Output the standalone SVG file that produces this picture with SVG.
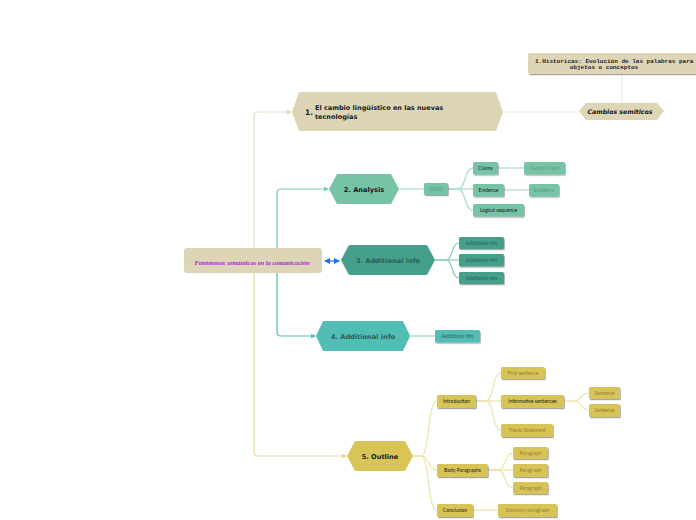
<svg xmlns="http://www.w3.org/2000/svg" width="696" height="520" viewBox="0 0 696 520">
<defs>
<filter id="sh" x="-20%" y="-30%" width="140%" height="170%">
<feDropShadow dx="0.8" dy="1.2" stdDeviation="0.7" flood-color="#000" flood-opacity="0.35"/>
</filter>
<marker id="aTan" viewBox="0 0 6 6" refX="5" refY="3" markerWidth="5" markerHeight="5" orient="auto" markerUnits="userSpaceOnUse"><path d="M0,0 L6,3 L0,6 z" fill="#e3dbbd"/></marker>
<marker id="aMint" viewBox="0 0 6 6" refX="5" refY="3" markerWidth="5" markerHeight="5" orient="auto" markerUnits="userSpaceOnUse"><path d="M0,0 L6,3 L0,6 z" fill="#7ccaa9"/></marker>
<marker id="aTeal" viewBox="0 0 6 6" refX="5" refY="3" markerWidth="5" markerHeight="5" orient="auto" markerUnits="userSpaceOnUse"><path d="M0,0 L6,3 L0,6 z" fill="#52bdb4"/></marker>
<marker id="aYel" viewBox="0 0 6 6" refX="5" refY="3" markerWidth="5" markerHeight="5" orient="auto" markerUnits="userSpaceOnUse"><path d="M0,0 L6,3 L0,6 z" fill="#e6d78c"/></marker>
<marker id="aBlue" viewBox="0 0 6 6" refX="5" refY="3" markerWidth="6" markerHeight="6" orient="auto-start-reverse" markerUnits="userSpaceOnUse"><path d="M0,0 L6,3 L0,6 z" fill="#1a73e8"/></marker>
</defs>
<style>
.main{font-family:"DejaVu Sans",Verdana,sans-serif;font-weight:bold;font-size:6.6px;text-anchor:middle}
.sub{font-family:Lato,"Open Sans",sans-serif;font-size:5px;text-anchor:middle}
.c{fill:none;stroke-linecap:round}
.tan{fill:#ddd5b6}
.mint{fill:#76c3a5}
.dteal{fill:#44a08a}
.teal{fill:#52bdb5}
.yel{fill:#d8c457}
.k{fill:#1a1a1a}
.g2{fill:#5f9a80}
.g3{fill:#2d5e55}
.g5{fill:#8e7f36}
</style>

<g id="connectors">
<path class="c" d="M254,262 V116 Q254,112 258,112 H291" stroke="#e6dfc6" stroke-width="1.2" marker-end="url(#aTan)"/>
<path class="c" d="M254,262 V452 Q254,456 258,456 H346" stroke="#e8dc96" stroke-width="1.2" marker-end="url(#aYel)"/>
<path class="c" d="M277,262 V193 Q277,189 281,189 H328" stroke="#7ccaa9" stroke-width="1.2" marker-end="url(#aMint)"/>
<path class="c" d="M277,262 V332 Q277,336 281,336 H315" stroke="#52bdb4" stroke-width="1.2" marker-end="url(#aTeal)"/>
<line x1="325" y1="261" x2="339" y2="261" stroke="#1a73e8" stroke-width="1.2" marker-start="url(#aBlue)" marker-end="url(#aBlue)"/>
<path class="c" d="M503,112 H579" stroke="#ece7d6" stroke-width="1"/>
<path class="c" d="M622,74 V103" stroke="#ece7d6" stroke-width="1"/>
<g stroke="#b6e0cf" stroke-width="1.4" fill="none">
<path d="M399,189 H424"/>
<path d="M448,189 H458 C466,189 464,168 473,168"/>
<path d="M448,189 H473"/>
<path d="M448,189 H458 C466,189 464,210 473,210"/>
<path d="M498,168 H524"/>
<path d="M504,190 H529"/>
</g>
<g stroke="#8fd0bb" stroke-width="1.2" fill="none">
<path d="M435,260 H446 C453,260 451,243 459,243"/>
<path d="M435,260 H459"/>
<path d="M435,260 H446 C453,260 451,278 459,278"/>
</g>
<path d="M410,336 H435" stroke="#8fd6cf" stroke-width="1.2" fill="none"/>
<g stroke="#ede1a6" stroke-width="1.1" fill="none">
<path d="M413,456 H421 C430,456 427,401 437,401"/>
<path d="M413,456 H421 C430,456 428,470 437,470"/>
<path d="M413,456 H421 C430,456 427,510 437,510"/>
<path d="M476,401 H486 C494,401 492,373 501,373"/>
<path d="M476,401 H501"/>
<path d="M476,401 H486 C494,401 492,430 501,430"/>
<path d="M564,401 H574 C582,401 580,393 589,393"/>
<path d="M564,401 H574 C582,401 580,410 589,410"/>
<path d="M488,470 H498 C506,470 504,453 513,453"/>
<path d="M488,470 H513"/>
<path d="M488,470 H498 C506,470 504,488 513,488"/>
<path d="M473,510 H498"/>
</g>
</g>

<g id="central">
<rect class="tan" x="184" y="248" width="138" height="25" rx="3"/>
<text x="252" y="265" font-family="'Liberation Serif',serif" font-style="italic" font-weight="bold" font-size="6.4" fill="#a326e0" text-anchor="middle">Fenómenos semánticos en la comunicación</text>
</g>

<g id="node1">
<polygon class="tan" points="292,112 299,92 496,92 503,112 496,131 299,131"/>
<text x="305" y="115" font-family="'DejaVu Sans',sans-serif" font-weight="bold" font-size="7.5" class="k">1.</text>
<text x="315" y="110" font-family="'DejaVu Sans',sans-serif" font-weight="bold" font-size="6.5" class="k">El cambio lingüístico en las nuevas</text>
<text x="315" y="119" font-family="'DejaVu Sans',sans-serif" font-weight="bold" font-size="6.5" class="k">tecnologías</text>
</g>

<g id="historicas">
<rect x="528" y="53" width="175" height="21" rx="2" fill="#ddd5b6" filter="url(#sh)"/>
<text x="535" y="62.5" font-family="'Liberation Mono',monospace" font-size="6" font-weight="bold" fill="#222">1.Historicas: Evolución de las palabras para o</text>
<text x="604" y="69" font-family="'Liberation Mono',monospace" font-size="6" font-weight="bold" fill="#222" text-anchor="middle">objetos o conceptos</text>
</g>

<g id="cambios">
<polygon class="tan" points="579,111 586,103 657,103 664,111 657,120 586,120"/>
<text x="620" y="113.5" font-family="'DejaVu Sans',sans-serif" font-style="italic" font-weight="bold" font-size="6.2" fill="#111" text-anchor="middle">Cambios semíticos</text>
</g>

<g id="node2">
<polygon class="mint" points="329,189 337,174 391,174 399,189 391,204 337,204"/>
<text class="main k" x="364" y="192" font-size="7">2. Analysis</text>
</g>
<g id="essay"><rect class="mint" x="424" y="183" width="24" height="12" rx="1.5" filter="url(#sh)"/><text class="sub g2" x="436" y="190.8" font-style="italic">ESSAY</text></g>
<g id="claims"><rect class="mint" x="473" y="162" width="25" height="12.5" rx="1.5" filter="url(#sh)"/><text class="sub k" x="485.5" y="170">Claims</text></g>
<g id="authorclaim"><rect class="mint" x="524" y="162" width="41" height="12.5" rx="1.5" filter="url(#sh)"/><text class="sub g2" x="544.5" y="170">Author Claim</text></g>
<g id="evidence"><rect class="mint" x="473" y="184" width="31" height="12.5" rx="1.5" filter="url(#sh)"/><text class="sub k" x="488.5" y="192">Evidence</text></g>
<g id="evidence2"><rect class="mint" x="529" y="184" width="30" height="12.5" rx="1.5" filter="url(#sh)"/><text class="sub g2" x="544" y="192">Evidence</text></g>
<g id="logical"><rect class="mint" x="473" y="204" width="51" height="12.5" rx="1.5" filter="url(#sh)"/><text class="sub k" x="498.5" y="212">Logical sequence</text></g>

<g id="node3">
<polygon class="dteal" points="341,260 349,245 427,245 435,260 427,275 349,275"/>
<text class="main g3" x="388" y="263">3. Additional info</text>
</g>
<g id="add3a"><rect class="dteal" x="459" y="237" width="45" height="12" rx="1.5" filter="url(#sh)"/><text class="sub g3" x="481.5" y="244.8">Additional info</text></g>
<g id="add3b"><rect class="dteal" x="459" y="254" width="45" height="12.5" rx="1.5" filter="url(#sh)"/><text class="sub g3" x="481.5" y="262">Additional info</text></g>
<g id="add3c"><rect class="dteal" x="459" y="272" width="45" height="12" rx="1.5" filter="url(#sh)"/><text class="sub g3" x="481.5" y="279.8">Additional info</text></g>

<g id="node4">
<polygon class="teal" points="316,336 323,321 403,321 410,336 403,351 323,351"/>
<text class="main g3" x="363" y="339">4. Additional info</text>
</g>
<g id="add4"><rect class="teal" x="435" y="330" width="45" height="12.5" rx="1.5" filter="url(#sh)"/><text class="sub g3" x="457.5" y="338">Additional info</text></g>

<g id="node5">
<polygon class="yel" points="347,456 355,441 405,441 413,456 405,471 355,471"/>
<text class="main k" x="380" y="459">5. Outline</text>
</g>
<g id="intro"><rect class="yel" x="437" y="395" width="39" height="13" rx="1.5" filter="url(#sh)"/><text class="sub k" x="456.5" y="403.2">Introduction</text></g>
<g id="first"><rect class="yel" x="501" y="367" width="44" height="12" rx="1.5" filter="url(#sh)"/><text class="sub g5" x="523" y="374.8">First sentence</text></g>
<g id="informative"><rect class="yel" x="501" y="395" width="63" height="13" rx="1.5" filter="url(#sh)"/><text class="sub k" x="532.5" y="403.2">Informative sentences</text></g>
<g id="sentence1"><rect class="yel" x="589" y="387" width="31" height="12" rx="1.5" filter="url(#sh)"/><text class="sub g5" x="604.5" y="394.8">Sentence</text></g>
<g id="sentence2"><rect class="yel" x="589" y="404" width="31" height="13" rx="1.5" filter="url(#sh)"/><text class="sub g5" x="604.5" y="412.2">Sentence</text></g>
<g id="thesis"><rect class="yel" x="501" y="424" width="52" height="13" rx="1.5" filter="url(#sh)"/><text class="sub g5" x="527" y="432.2">Thesis Statement</text></g>
<g id="body"><rect class="yel" x="437" y="464" width="51" height="13" rx="1.5" filter="url(#sh)"/><text class="sub k" x="462.5" y="472.2">Body Paragraphs</text></g>
<g id="para1"><rect class="yel" x="513" y="447" width="35" height="12" rx="1.5" filter="url(#sh)"/><text class="sub g5" x="530.5" y="454.8">Paragraph</text></g>
<g id="para2"><rect class="yel" x="513" y="464" width="35" height="13" rx="1.5" filter="url(#sh)"/><text class="sub g5" x="530.5" y="472.2">Paragraph</text></g>
<g id="para3"><rect class="yel" x="513" y="482" width="35" height="12" rx="1.5" filter="url(#sh)"/><text class="sub g5" x="530.5" y="489.8">Paragraph</text></g>
<g id="conclusion"><rect class="yel" x="437" y="504" width="36" height="13" rx="1.5" filter="url(#sh)"/><text class="sub k" x="455" y="512.2">Conclusion</text></g>
<g id="summary"><rect class="yel" x="498" y="504" width="59" height="13" rx="1.5" filter="url(#sh)"/><text class="sub g5" x="527.5" y="512.2">Summary paragraph</text></g>
</svg>
